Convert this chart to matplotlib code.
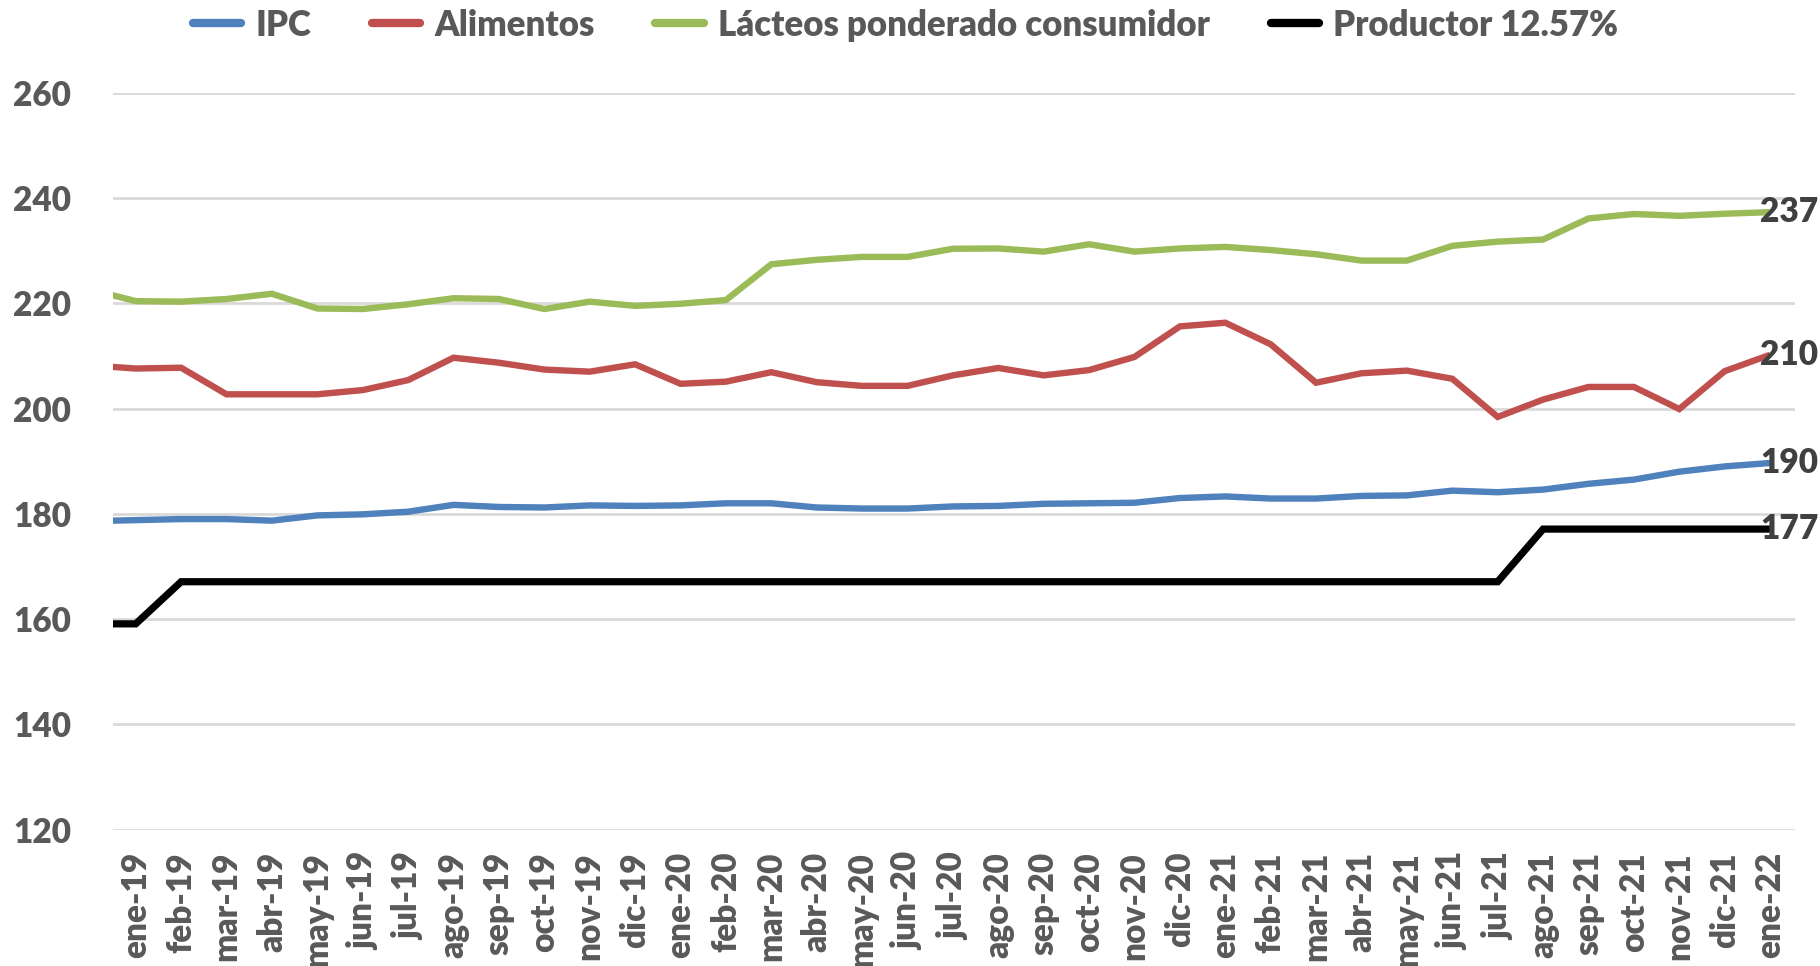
import matplotlib
matplotlib.use("Agg")
import matplotlib.pyplot as plt
from matplotlib.lines import Line2D
import matplotlib.transforms as mtransforms

plt.rcParams['font.family'] = ['Lato', 'DejaVu Sans']
W = 'heavy'

# first category (dic-18) sits just outside the visible range; only its segment shows
categories = ["dic-18",
              "ene-19", "feb-19", "mar-19", "abr-19", "may-19", "jun-19", "jul-19", "ago-19",
              "sep-19", "oct-19", "nov-19", "dic-19",
              "ene-20", "feb-20", "mar-20", "abr-20", "may-20", "jun-20", "jul-20", "ago-20",
              "sep-20", "oct-20", "nov-20", "dic-20",
              "ene-21", "feb-21", "mar-21", "abr-21", "may-21", "jun-21", "jul-21", "ago-21",
              "sep-21", "oct-21", "nov-21", "dic-21",
              "ene-22"]

ipc = [178.6,
       178.8, 179.0, 179.0, 178.7, 179.7, 179.9, 180.4, 181.7, 181.3, 181.2, 181.6, 181.5,
       181.6, 182.0, 182.0, 181.2, 181.0, 181.0, 181.4, 181.5, 181.9, 182.0, 182.1, 183.0,
       183.3, 182.9, 182.9, 183.4, 183.5, 184.4, 184.1, 184.6, 185.7, 186.5, 188.0, 189.0,
       189.65]

alimentos = [208.2,
             207.6, 207.75, 202.7, 202.7, 202.7, 203.5, 205.4, 209.65, 208.7, 207.4, 207.0, 208.4,
             204.7, 205.1, 206.9, 205.0, 204.3, 204.3, 206.3, 207.7, 206.3, 207.3, 209.8, 215.6,
             216.3, 212.2, 204.9, 206.7, 207.2, 205.65, 198.4, 201.7, 204.1, 204.1, 199.9, 207.1,
             210.2]

lacteos = [222.6,
           220.4, 220.3, 220.8, 221.8, 219.0, 218.9, 219.8, 220.95, 220.8, 218.9, 220.3, 219.5,
           219.9, 220.6, 227.4, 228.25, 228.8, 228.8, 230.35, 230.4, 229.8, 231.2, 229.8, 230.4,
           230.7, 230.1, 229.3, 228.1, 228.1, 230.9, 231.7, 232.1, 236.1, 236.95, 236.6, 237.0,
           237.3]

productor = [159.1,
             159.1, 167.1, 167.1, 167.1, 167.1, 167.1, 167.1, 167.1, 167.1, 167.1, 167.1, 167.1,
             167.1, 167.1, 167.1, 167.1, 167.1, 167.1, 167.1, 167.1, 167.1, 167.1, 167.1, 167.1,
             167.1, 167.1, 167.1, 167.1, 167.1, 167.1, 167.1, 177.1, 177.1, 177.1, 177.1, 177.1,
             177.1]

series_names = ["IPC", "Alimentos", "Lácteos ponderado consumidor", "Productor 12.57%"]
series_values = [ipc, alimentos, lacteos, productor]
series_colors = ["#4F81BD", "#C0504D", "#9BBB59", "#000000"]
series_widths = [4.6, 4.6, 4.6, 5.2]

yticks = [120, 140, 160, 180, 200, 220, 240, 260]

fig = plt.figure(figsize=(18.2, 9.66), dpi=100)
ax = fig.add_axes([0.0621, 0.1411, 0.9242, 0.7630])

x = list(range(-1, len(categories) - 1))
for name, vals, col, lw in zip(series_names, series_values, series_colors, series_widths):
    ax.plot(x, vals, color=col, lw=lw, solid_joinstyle='miter', solid_capstyle='butt',
            label=name, zorder=3)

ax.set_xlim(-0.5, len(categories) - 2 + 0.55)
ax.set_ylim(yticks[0], yticks[-1])
ax.set_yticks(yticks)
ax.set_yticklabels([str(v) for v in yticks])
ax.set_xticks(x[1:])
ax.set_xticklabels(categories[1:], rotation=90)

for s in ax.spines.values():
    s.set_visible(False)
ax.grid(axis='y', color='#D9D9D9', lw=2.0, zorder=0)
ax.tick_params(axis='both', length=0, colors='#595959')
ax.tick_params(axis='y', pad=30, labelsize=24)
ax.tick_params(axis='x', pad=16, labelsize=24)
for lab in ax.get_xticklabels() + ax.get_yticklabels():
    lab.set_fontweight(W)
    lab.set_color('#595959')

# end-of-series value labels
off = mtransforms.offset_copy(ax.transData, fig=fig, x=-10, y=0, units='dots')
for vals in series_values:
    ax.text(x[-1], vals[-1], f"{vals[-1]:.0f}", transform=off, ha='left', va='center',
            fontsize=24, fontweight=W, color='#404040', zorder=4, clip_on=False)

handles = [Line2D([0], [0], color=c, lw=6, solid_capstyle='round') for c in series_colors]
leg = fig.legend(handles, series_names, loc='center', bbox_to_anchor=(0.4975, 0.974),
                 ncol=4, frameon=False, fontsize=25, handlelength=1.4, handletextpad=0.4,
                 columnspacing=1.75)
for t in leg.get_texts():
    t.set_fontweight(W)
    t.set_color('#595959')

fig.savefig("out.png", dpi=100)
